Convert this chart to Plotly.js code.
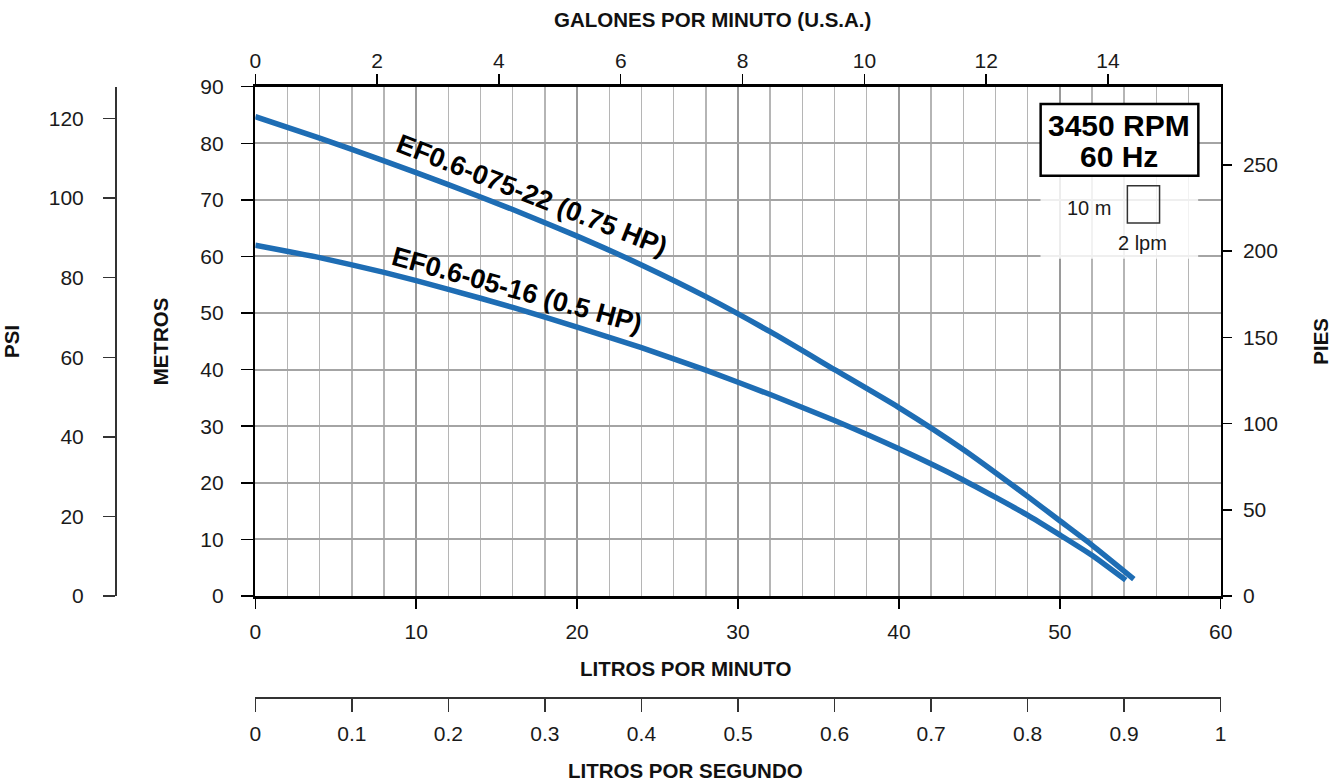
<!DOCTYPE html>
<html>
<head>
<meta charset="utf-8">
<script src="https://cdn.plot.ly/plotly-3.0.1.min.js"></script>
<style>
  html, body { margin: 0; padding: 0; background: #ffffff; }
  #chart { width: 1342px; height: 784px; }
</style>
</head>
<body>
<div id="chart"></div>
<script>
// ---- Data ----
const lpmA  = [0, 4, 8, 12, 16, 20, 24, 28, 32, 36, 40, 44, 48, 50, 52, 54.6];
const headA = [84.7, 80.9, 76.9, 72.7, 68.3, 63.6, 58.5, 52.9, 46.7, 40.0, 33.3, 25.9, 17.6, 13.3, 9.0, 3.0];
const nameA = "EF0.6-075-22 (0.75 HP)";

const lpmB  = [0, 4, 8, 12, 16, 20, 24, 28, 32, 36, 40, 44, 48, 50, 52, 54.1];
const headB = [62.0, 59.8, 57.2, 54.2, 51.0, 47.5, 43.9, 39.9, 35.6, 31.0, 26.0, 20.5, 14.3, 10.8, 7.2, 2.8];
const nameB = "EF0.6-05-16 (0.5 HP)";

// axis ranges (unit conversions of 0-60 lpm and 0-90 m)
const LPM_MAX = 60, M_MAX = 90;
const GPM_PER_LPM = 1 / 3.785411784;
const FT_PER_M = 3.28084;
const PSI_PER_M = 1 / 0.70307;
const LPS_PER_LPM = 1 / 60;

const lpsTickVals = [0, 0.1, 0.2, 0.3, 0.4, 0.5, 0.6, 0.7, 0.8, 0.9, 1];
const lpsTickText = ["0", "0.1", "0.2", "0.3", "0.4", "0.5", "0.6", "0.7", "0.8", "0.9", "1"];
const psiTickVals = [0, 20, 40, 60, 80, 100, 120];
const ftTickVals  = [0, 50, 100, 150, 200, 250];
const gpmTickVals = [0, 2, 4, 6, 8, 10, 12, 14];

const titleTop    = "GALONES POR MINUTO (U.S.A.)";
const titleBottom = "LITROS POR MINUTO";
const titleLps    = "LITROS POR SEGUNDO";
const titleM      = "METROS";
const titlePsi    = "PSI";
const titleFt     = "PIES";
const rpmLine1    = "3450 RPM";
const rpmLine2    = "60 Hz";
const scaleM      = "10 m";
const scaleL      = "2 lpm";

// ---- Layout geometry ----
const W = 1342, H = 784;
const xL = 255.3, xR = 1220.7, yT = 86.7, yB = 596;
const xDom = [xL / W, xR / W];
const yDom = [(H - yB) / H, (H - yT) / H];

const blue = "#1e6db4";
const regular = "Liberation Sans, Arial, Helvetica, sans-serif";
const tickFont = {family: regular, size: 21, color: "#1a1a1a"};
const titleFont = {family: regular, size: 20.5, color: "#111", weight: 700};

const traces = [
  {x: lpmA, y: headA, xaxis: "x", yaxis: "y", type: "scatter", mode: "lines", name: nameA,
   line: {color: blue, width: 5.5, shape: "spline", smoothing: 0.5}, hoverinfo: "x+y+name"},
  {x: lpmB, y: headB, xaxis: "x", yaxis: "y", type: "scatter", mode: "lines", name: nameB,
   line: {color: blue, width: 5.5, shape: "spline", smoothing: 0.5}, hoverinfo: "x+y+name"},
  // empty traces so the secondary axes are drawn
  {x: [], y: [], xaxis: "x2", yaxis: "y", mode: "none", showlegend: false, hoverinfo: "skip"},
  {x: [], y: [], xaxis: "x3", yaxis: "y", mode: "none", showlegend: false, hoverinfo: "skip"},
  {x: [], y: [], xaxis: "x", yaxis: "y2", mode: "none", showlegend: false, hoverinfo: "skip"},
  {x: [], y: [], xaxis: "x", yaxis: "y3", mode: "none", showlegend: false, hoverinfo: "skip"}
];

const layout = {
  width: W, height: H,
  margin: {l: 0, r: 0, t: 0, b: 0, pad: 0},
  paper_bgcolor: "#ffffff", plot_bgcolor: "#ffffff",
  showlegend: false,
  font: {family: regular, size: 20, color: "#1a1a1a"},
  xaxis: {
    domain: xDom, range: [0, LPM_MAX], dtick: 10, tick0: 0,
    showline: true, linecolor: "#000", linewidth: 2.5, mirror: true,
    ticks: "outside", ticklen: 10, tickwidth: 1.5, tickcolor: "#000",
    tickfont: tickFont, ticklabelstandoff: 5,
    showgrid: true, gridcolor: "#9a9a9a", gridwidth: 2,
    minor: {dtick: 2, showgrid: true, gridcolor: "#b5b5b5", gridwidth: 1.5, ticks: ""},
    zeroline: false, fixedrange: true, automargin: false
  },
  xaxis2: {
    overlaying: "x", anchor: "y", side: "top",
    range: [0, LPM_MAX * GPM_PER_LPM], tickvals: gpmTickVals,
    showline: false, showgrid: false, zeroline: false,
    ticks: "outside", ticklen: 12, tickwidth: 1.5, tickcolor: "#000",
    tickfont: tickFont, ticklabelstandoff: -3,
    fixedrange: true, automargin: false
  },
  xaxis3: {
    overlaying: "x", anchor: "free", position: (H - 697) / H, side: "bottom",
    range: [0, LPM_MAX * LPS_PER_LPM], tickvals: lpsTickVals, ticktext: lpsTickText,
    showline: true, linecolor: "#333", linewidth: 1.5,
    showgrid: false, zeroline: false,
    ticks: "outside", ticklen: 13, tickwidth: 1.5, tickcolor: "#333",
    tickfont: tickFont, ticklabelstandoff: 4,
    fixedrange: true, automargin: false
  },
  yaxis: {
    domain: yDom, range: [0, M_MAX], dtick: 10, tick0: 0,
    showline: true, linecolor: "#000", linewidth: 2.5, mirror: true,
    ticks: "outside", ticklen: 12, tickwidth: 1.5, tickcolor: "#000",
    tickfont: tickFont, ticklabelstandoff: 13,
    showgrid: true, gridcolor: "#a4a4a4", gridwidth: 2,
    zeroline: false, fixedrange: true, automargin: false,
    title: {text: titleM, font: titleFont, standoff: 26}
  },
  yaxis2: {
    overlaying: "y", anchor: "x", side: "right",
    range: [0, M_MAX * FT_PER_M], tickvals: ftTickVals,
    showline: false, showgrid: false, zeroline: false,
    ticks: "outside", ticklen: 10, tickwidth: 1.5, tickcolor: "#000",
    tickfont: tickFont, ticklabelstandoff: 7,
    fixedrange: true, automargin: false,
    title: {text: titleFt, font: titleFont, standoff: 36}
  },
  yaxis3: {
    overlaying: "y", anchor: "free", position: 115 / W, side: "left",
    range: [0, M_MAX * PSI_PER_M], tickvals: psiTickVals,
    showline: true, linecolor: "#333", linewidth: 1.5,
    showgrid: false, zeroline: false,
    ticks: "outside", ticklen: 12, tickwidth: 1.5, tickcolor: "#333",
    tickfont: tickFont, ticklabelstandoff: 15,
    fixedrange: true, automargin: false,
    title: {text: titlePsi, font: titleFont, standoff: 22}
  },
  shapes: [
    // faded area behind the scale indicator
    {type: "rect", xref: "x", yref: "y", x0: 48.8, x1: 58.6, y0: 59.6, y1: 74.3,
     fillcolor: "rgba(255,255,255,0.82)", line: {width: 0}, layer: "above"},
    // RPM box
    {type: "rect", xref: "x", yref: "y", x0: 48.81, x1: 58.61, y0: 74.27, y1: 86.94,
     fillcolor: "#ffffff", line: {color: "#000", width: 2.5}, layer: "above"},
    // 2 lpm x 10 m scale square
    {type: "rect", xref: "x", yref: "y", x0: 54.2, x1: 56.2, y0: 65.9, y1: 72.5,
     fillcolor: "rgba(0,0,0,0)", line: {color: "#333", width: 1.5}, layer: "above"}
  ],
  annotations: [
    // x-axis titles
    {xref: "paper", yref: "paper", x: 712 / W, y: (H - 20) / H, text: titleTop, showarrow: false,
     xanchor: "center", yanchor: "middle", font: titleFont},
    {xref: "paper", yref: "paper", x: 686 / W, y: (H - 668) / H, text: titleBottom, showarrow: false,
     xanchor: "center", yanchor: "middle", font: titleFont},
    {xref: "paper", yref: "paper", x: 685 / W, y: (H - 770) / H, text: titleLps, showarrow: false,
     xanchor: "center", yanchor: "middle", font: titleFont},
    // curve labels
    {x: 17.18, y: 70.9, xref: "x", yref: "y", text: nameA, showarrow: false,
     textangle: 21.5, xanchor: "center", yanchor: "middle",
     font: {family: regular, size: 27, color: "#000", weight: 700}},
    {x: 16.26, y: 54.1, xref: "x", yref: "y", text: nameB, showarrow: false,
     textangle: 15.5, xanchor: "center", yanchor: "middle",
     font: {family: regular, size: 27, color: "#000", weight: 700}},
    // RPM box text
    {x: 53.71, y: 83.2, xref: "x", yref: "y", text: rpmLine1, showarrow: false,
     xanchor: "center", yanchor: "middle",
     font: {family: regular, size: 30, color: "#000", weight: 700}},
    {x: 53.71, y: 77.6, xref: "x", yref: "y", text: rpmLine2, showarrow: false,
     xanchor: "center", yanchor: "middle",
     font: {family: regular, size: 30, color: "#000", weight: 700}},
    // scale indicator texts
    {x: 53.31, y: 68.56, xref: "x", yref: "y", text: scaleM, showarrow: false,
     xanchor: "right", yanchor: "middle",
     font: {family: regular, size: 20, color: "#1a1a1a"}},
    {x: 55.12, y: 62.4, xref: "x", yref: "y", text: scaleL, showarrow: false,
     xanchor: "center", yanchor: "middle",
     font: {family: regular, size: 20, color: "#1a1a1a"}}
  ]
};

Plotly.newPlot("chart", traces, layout, {staticPlot: true, displayModeBar: false});
</script>
</body>
</html>
